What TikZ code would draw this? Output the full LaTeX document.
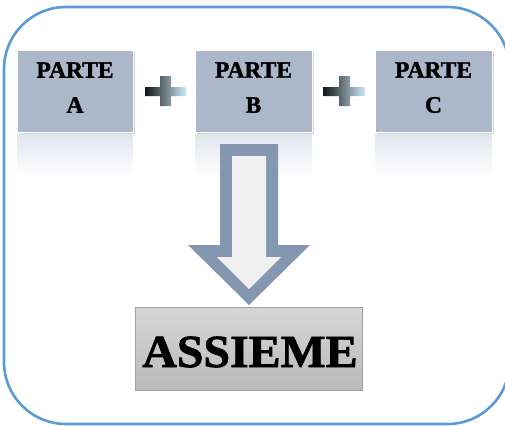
\documentclass[tikz,border=0pt]{standalone}
\usepackage{fontspec}
\setmainfont{Liberation Serif}
\newfontfamily\heavyserif{Liberation Serif}[BoldFeatures={FakeBold=1.6}]
\usetikzlibrary{shadows}
\definecolor{frameblue}{RGB}{91,155,213}
\definecolor{partfill}{RGB}{172,184,202}
\definecolor{arrowline}{RGB}{132,151,176}
\definecolor{arrowfill}{RGB}{240,240,240}
\definecolor{plusdark}{RGB}{20,20,22}
\definecolor{plusmid}{RGB}{122,148,168}
\definecolor{pluslight}{RGB}{205,234,248}
\definecolor{reflecttop}{RGB}{224,229,237}
\tikzset{
  partbox/.style={draw=white, line width=1pt, fill=partfill,
    minimum width=116pt, minimum height=82pt, inner sep=0pt,
    drop shadow={shadow xshift=1.5pt, shadow yshift=-2pt, opacity=0.35}},
  parttext/.style={font=\heavyserif\bfseries\fontsize{23.5}{35}\selectfont,
    align=center, inner sep=0pt},
  reflection/.style={top color=reflecttop, bottom color=white},
  plusshade/.style={left color=plusdark, middle color=plusmid, right color=pluslight},
}
\begin{document}
\begin{tikzpicture}[x=1pt, y={(0pt,-1pt)}]
\useasboundingbox (0,0) rectangle (505,426);

% outer frame (its right side runs just past the page edge)
\begin{scope}
\clip (0,0) rectangle (505,426);
\draw[frameblue, line width=2.6pt, rounded corners=62pt] (4,7) rectangle (509.5,424);
\end{scope}

% soft reflections beneath the three parts
\shade[reflection] (17,134) rectangle (133,176);
\shade[reflection] (195,134) rectangle (312,176);
\shade[reflection] (375,134) rectangle (492,176);

% the three parts
\node[partbox] (A) at (75,91) {};
\node[partbox, minimum width=117pt] (B) at (253.5,91) {};
\node[partbox, minimum width=117pt] (C) at (433.5,91) {};
\node[parttext] (tA) at (75,87.5) {PARTE\\A};
\node[parttext] (tB) at (253.5,87.5) {PARTE\\B};
\node[parttext] (tC) at (433.5,87.5) {PARTE\\C};

% plus signs between the parts
\shade[plusshade] (145,87) -- (160,87) -- (160,76) -- (171,76) -- (171,87) -- (186,87)
  -- (186,96) -- (171,96) -- (171,106) -- (160,106) -- (160,96) -- (145,96) -- cycle;
\shade[plusshade] (323,87) -- (339,87) -- (339,76) -- (350,76) -- (350,87) -- (365,87)
  -- (365,96) -- (350,96) -- (350,106) -- (339,106) -- (339,96) -- (323,96) -- cycle;

% block arrow down to the result
\fill[arrowline] (220,144) -- (278,144) -- (278,245) -- (310,245) -- (249,305)
  -- (188,245) -- (220,245) -- cycle;
\fill[arrowfill] (232,156) -- (266,156) -- (266,257) -- (281,257) -- (249,289)
  -- (217,257) -- (232,257) -- cycle;

% result box
\node[draw={rgb,255:red,160;green,160;blue,160}, line width=0.8pt,
  top color={rgb,255:red,214;green,214;blue,214},
  bottom color={rgb,255:red,186;green,186;blue,186},
  minimum width=227pt, minimum height=83pt, inner sep=0pt] (R) at (248.5,348.5) {};
\node[font=\heavyserif\bfseries\fontsize{46}{46}\selectfont, inner sep=0pt, xscale=1.04]
  (tR) at (250,352) {ASSIEME};
\end{tikzpicture}
\end{document}
